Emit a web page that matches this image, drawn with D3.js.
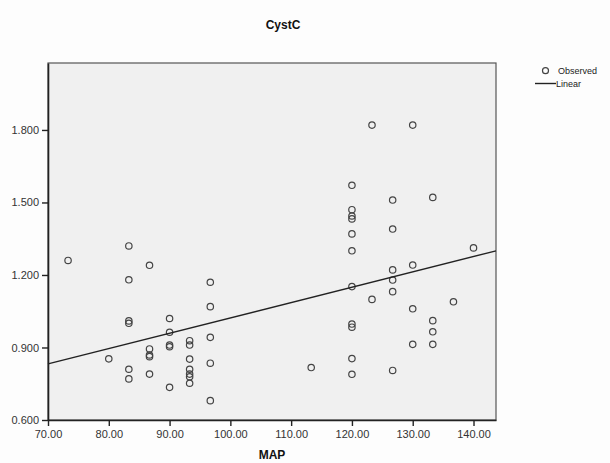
<!DOCTYPE html>
<html>
<head>
<meta charset="utf-8">
<script src="https://cdn.jsdelivr.net/npm/d3@7"></script>
<style>
html,body{margin:0;padding:0;background:#fdfdfd;}
svg{display:block;font-family:"Liberation Sans",Arial,sans-serif;}
</style>
</head>
<body>
<svg id="chart" width="610" height="463"></svg>
<script>
// ---- data ----
const title = "CystC";
const xLabel = "MAP";
const xTicks = [70, 80, 90, 100, 110, 120, 130, 140];
const yTicks = [0.6, 0.9, 1.2, 1.5, 1.8];
const mapValues = [
  73.3,
  80.0,
  83.3, 83.3, 83.3, 83.3, 83.3, 83.3,
  86.7, 86.7, 86.7, 86.7, 86.7,
  90.0, 90.0, 90.0, 90.0, 90.0,
  93.3, 93.3, 93.3, 93.3, 93.3, 93.3, 93.3,
  96.7, 96.7, 96.7, 96.7, 96.7,
  113.3,
  120.0, 120.0, 120.0, 120.0, 120.0, 120.0, 120.0, 120.0, 120.0, 120.0, 120.0,
  123.3, 123.3,
  126.7, 126.7, 126.7, 126.7, 126.7, 126.7,
  130.0, 130.0, 130.0, 130.0,
  133.3, 133.3, 133.3, 133.3,
  136.7,
  140.0
];
const cystcValues = [
  1.26,
  0.853,
  1.32, 1.18, 1.01, 1.00, 0.81, 0.77,
  1.24, 0.894, 0.869, 0.862, 0.79,
  1.02, 0.963, 0.910, 0.903, 0.735,
  0.928, 0.910, 0.852, 0.810, 0.790, 0.779, 0.752,
  1.170, 1.069, 0.942, 0.835, 0.680,
  0.817,
  1.571, 1.470, 1.444, 1.432, 1.370, 1.300, 1.152, 0.997, 0.984, 0.854, 0.789,
  1.820, 1.099,
  1.510, 1.390, 1.221, 1.179, 1.131, 0.805,
  1.820, 1.241, 1.060, 0.913,
  1.521, 1.011, 0.965, 0.913,
  1.089,
  1.312
];
// linear fit: value at the two ends of the x domain
const fitX = [70, 143.7];
const fitY = [0.832, 1.300];
const legendLabels = ["Observed", "Linear"];

// ---- layout ----
const svg = d3.select("#chart");
const L = 48, R = 496, T = 63, B = 420;
const x = d3.scaleLinear().domain([70, 143.7]).range([L, R]);
const y = d3.scaleLinear().domain([0.6, 2.077]).range([B, T]);

// plot background + frame
svg.append("rect").attr("x", L).attr("y", T).attr("width", R - L).attr("height", B - T)
  .attr("fill", "#f0f0f0").attr("stroke", "#555").attr("stroke-width", 1.2);

// axes
const xAxis = d3.axisBottom(x).tickValues(xTicks).tickFormat(d3.format(".2f")).tickSize(6).tickSizeOuter(0);
const yAxis = d3.axisLeft(y).tickValues(yTicks).tickFormat(d3.format(".3f")).tickSize(6).tickSizeOuter(0);

const gx = svg.append("g").attr("transform", `translate(0,${B})`).call(xAxis);
const gy = svg.append("g").attr("transform", `translate(${L},0)`).call(yAxis);
[gx, gy].forEach(g => {
  g.select(".domain").attr("stroke", "#222").attr("stroke-width", 1.6);
  g.selectAll(".tick line").attr("stroke", "#222").attr("stroke-width", 1.4);
  g.selectAll(".tick text").attr("fill", "#333").attr("font-size", 11)
    .attr("font-family", "'Liberation Sans',Arial,sans-serif");
});
gx.selectAll(".tick text").attr("dy", "0.9em").attr("y", 8);
gy.selectAll(".tick text").attr("x", -9);

// points
svg.append("g").selectAll("circle").data(mapValues.map((m, i) => [m, cystcValues[i]]))
  .join("circle")
  .attr("cx", d => x(d[0])).attr("cy", d => y(d[1])).attr("r", 3.2)
  .attr("fill", "none").attr("stroke", "#444").attr("stroke-width", 1.2);

// linear fit line
svg.append("line")
  .attr("x1", x(fitX[0])).attr("y1", y(fitY[0]))
  .attr("x2", x(fitX[1])).attr("y2", y(fitY[1]))
  .attr("stroke", "#222").attr("stroke-width", 1.4);

// title & axis label
svg.append("text").attr("x", 283).attr("y", 29).attr("text-anchor", "middle")
  .attr("font-size", 12).attr("font-weight", "bold").attr("fill", "#111").text(title);
svg.append("text").attr("x", 272).attr("y", 459).attr("text-anchor", "middle")
  .attr("font-size", 12).attr("font-weight", "bold").attr("fill", "#111").text(xLabel);

// legend
const lg = svg.append("g");
lg.append("circle").attr("cx", 545.5).attr("cy", 70.7).attr("r", 3)
  .attr("fill", "none").attr("stroke", "#444").attr("stroke-width", 1.2);
lg.append("text").attr("x", 558).attr("y", 74).attr("font-size", 9).attr("fill", "#222").text(legendLabels[0]);
lg.append("line").attr("x1", 535).attr("x2", 556).attr("y1", 83.5).attr("y2", 83.5)
  .attr("stroke", "#222").attr("stroke-width", 1.4);
lg.append("text").attr("x", 556).attr("y", 86.5).attr("font-size", 9).attr("fill", "#222").text(legendLabels[1]);
</script>
</body>
</html>
